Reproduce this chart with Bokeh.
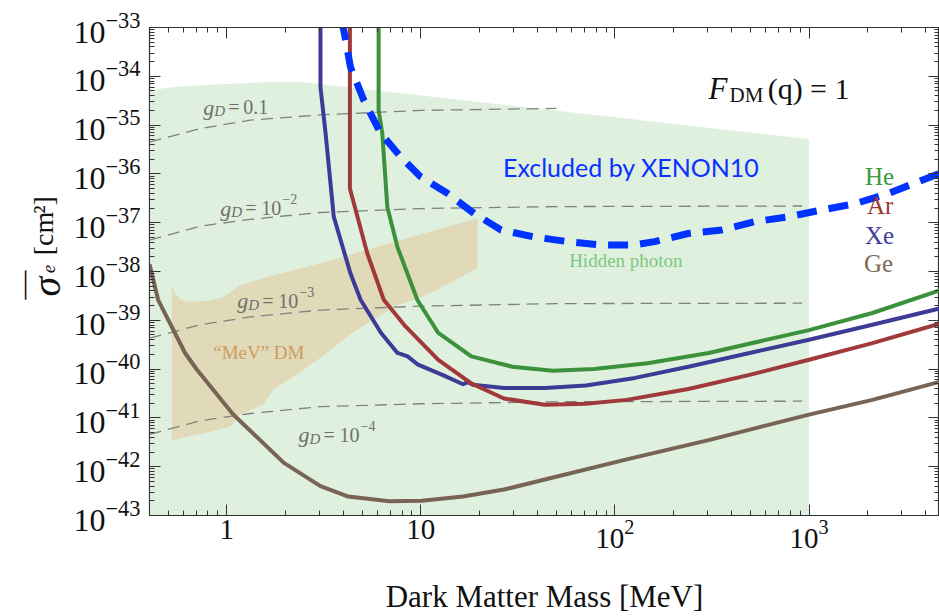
from math import pi
from bokeh.plotting import figure
from bokeh.layouts import row
from bokeh.models import LogAxis, FixedTicker, LogTickFormatter, Label, Range1d
from bokeh.embed import file_html
from bokeh.resources import INLINE

# ---------------- data: DM mass [MeV] vs cross section [cm^2] ----------------
he_mass = [6.06, 6.06, 6.33, 6.72, 7.57, 9.6, 12.3, 18.2, 29.6, 48, 78, 147, 304, 1000, 2120, 4790]
he_sigma = [1e-32, 2.0e-35, 6.8e-36, 2.1e-37, 3.2e-38, 2.6e-39, 5.5e-40, 1.82e-40, 1.12e-40,
            9.3e-41, 1.0e-40, 1.32e-40, 2.14e-40, 6.3e-40, 1.41e-39, 4.2e-39]

ar_mass = [4.31, 4.31, 5.30, 6.45, 8.36, 12.3, 18.2, 26.8, 43.5, 70.8, 115, 239, 494, 1000, 2120, 4790]
ar_sigma = [1e-32, 5.0e-37, 2.34e-38, 2.6e-39, 7.4e-40, 1.55e-40, 5.1e-41, 2.5e-41, 1.86e-41,
            1.95e-41, 2.34e-41, 3.9e-41, 7.6e-41, 1.55e-40, 3.4e-40, 8.7e-40]

xe_mass = [3.04, 3.04, 3.23, 3.56, 4.34, 4.90, 6.24, 7.58, 8.55, 9.68, 12.9, 16.5, 17.5, 18.5,
           26.8, 43.5, 70.8, 127, 239, 494, 1000, 2120, 4790]
xe_sigma = [1e-32, 6.0e-35, 6.8e-36, 1.32e-37, 9.1e-39, 2.6e-39, 5.5e-40, 2.14e-40, 1.82e-40,
            1.23e-40, 7.6e-41, 4.9e-41, 5.4e-41, 4.8e-41, 4.1e-41, 4.1e-41, 4.6e-41, 6.6e-41,
            1.12e-40, 2.14e-40, 4.0e-40, 8.1e-40, 1.78e-39]

ge_mass = [0.40, 0.443, 0.610, 0.701, 1.08, 1.97, 3.04, 4.23, 6.88, 10.1, 16.5, 26.8, 48, 115,
           304, 1000, 2120, 4790]
ge_sigma = [1.41e-38, 2.63e-39, 2.14e-40, 9.8e-41, 1.17e-41, 1.2e-42, 4.0e-43, 2.45e-43, 1.95e-43,
            2.0e-43, 2.45e-43, 3.4e-43, 6.0e-43, 1.41e-42, 3.5e-42, 1.17e-41, 2.34e-41, 5.6e-41]

xenon10_mass = [3.90, 4.01, 4.34, 5.09, 6.21, 7.87, 9.98, 13.7, 18.8, 25.9, 38.4, 57.1, 84.9, 126,
                160, 238, 354, 526, 783, 1164, 1729, 2570, 3820, 5000]
xenon10_sigma = [1.38e-33, 8.7e-34, 1.55e-34, 3.2e-35, 6.8e-36, 2.24e-36, 8.7e-37, 4.0e-37,
                 1.55e-37, 7.1e-38, 5.1e-38, 4.1e-38, 3.5e-38, 3.5e-38, 4.1e-38, 6.0e-38, 7.1e-38,
                 1.05e-37, 1.32e-37, 1.82e-37, 2.45e-37, 4.0e-37, 7.4e-37, 1.12e-36]

# hidden photon region (closed polygon)
hp_mass = [0.39, 0.575, 0.925, 1.68, 2.40, 1000, 1000, 0.39]
hp_sigma = [5.2e-35, 6.2e-35, 6.9e-35, 7.6e-35, 7.6e-35, 5.2e-36, 1e-44, 1e-44]

# "MeV" DM region (closed polygon)
mev_mass = [0.521, 0.545, 0.575, 0.633, 0.774, 0.948, 1.17, 1.68, 3.04, 7.87, 19.6, 19.6, 13.4,
            9.98, 7.58, 5.85, 4.44, 3.04, 2.36, 1.74, 1.54, 1.17, 1.04, 0.822, 0.521]
mev_sigma = [4.8e-39, 3.6e-39, 2.7e-39, 2.4e-39, 2.5e-39, 2.9e-39, 5.2e-39, 8.1e-39, 1.48e-38,
             4.4e-38, 1.23e-37, 1.17e-38, 5.2e-39, 2.9e-39, 2.04e-39, 1.12e-39, 5.5e-40, 1.7e-40,
             8.3e-41, 3.8e-41, 1.86e-41, 1.17e-41, 6.6e-42, 5.2e-42, 3.5e-42]

# constant-coupling contours
gd_mass = [0.4, 0.73, 1.32, 3.04, 10, 50, 920]
gd_01_sigma = [4.5e-36, 8.5e-36, 1.26e-35, 1.62e-35, 2.0e-35, 2.2e-35]
gd_1e2_sigma = [4.4e-38, 8.5e-38, 1.17e-37, 1.62e-37, 1.95e-37, 2.14e-37, 2.2e-37]
gd_1e3_sigma = [4.3e-40, 8.1e-40, 1.17e-39, 1.62e-39, 1.95e-39, 2.2e-39, 2.24e-39]
gd_1e4_sigma = [4.6e-42, 8.7e-42, 1.23e-41, 1.7e-41, 1.95e-41, 2.14e-41, 2.2e-41]

x_major = [1, 10, 100, 1000]
x_minor = [0.4, 0.5, 0.6, 0.7, 0.8, 0.9] + [m * 10.0 ** e for e in range(0, 4) for m in range(2, 10)]
y_major = [10.0 ** e for e in range(-43, -32)]
y_minor = [m * 10.0 ** e for e in range(-43, -33) for m in range(2, 10)]

SERIF = "Liberation Serif"
INK = "#111111"

# ---------------- y-axis title strip ----------------
TITLE_W = 68
side = figure(width=TITLE_W, height=616, x_range=Range1d(0, TITLE_W), y_range=Range1d(616, 0),
              output_backend="svg", toolbar_location=None,
              x_axis_location=None, y_axis_location=None,
              min_border_left=0, min_border_right=0, min_border_top=0, min_border_bottom=0)
side.outline_line_color = None
side.xgrid.grid_line_color = None
side.ygrid.grid_line_color = None


def side_lab(x, y, text, size, style="normal", align="center", baseline="alphabetic"):
    side.add_layout(Label(x=x, y=y, text=text, text_font=SERIF, text_font_size=f"{size}px",
                          text_font_style=style, text_color=INK, text_align=align,
                          text_baseline=baseline, angle=pi / 2))


# sigma-bar_e [cm^2], written bottom to top
side_lab(46, 327, "\u03c3", 40, "italic")
side_lab(22, 325, "\u2014", 29, baseline="middle")
side_lab(48, 305, "e", 19, "italic")
side_lab(43, 260, "[cm", 28)
side_lab(43, 224, "\u00b2]", 28)

# ---------------- main figure ----------------
X0, X1 = 0.4, 4700
p = figure(width=939 - TITLE_W, height=616, x_axis_type="log", y_axis_type="log",
           x_range=Range1d(X0, X1), y_range=Range1d(1e-43, 1e-33),
           output_backend="svg", toolbar_location=None,
           min_border_left=149 - TITLE_W, min_border_right=0, min_border_top=27,
           min_border_bottom=100)
p.background_fill_color = "white"
p.border_fill_color = "white"
p.outline_line_color = "#333333"
p.outline_line_width = 1.2
p.xgrid.grid_line_color = None
p.ygrid.grid_line_color = None

AX = "#333333"


def style_axis(ax, size, standoff):
    ax.major_tick_in = 11
    ax.major_tick_out = 0
    ax.minor_tick_in = 5
    ax.minor_tick_out = 0
    ax.axis_line_color = AX
    ax.major_tick_line_color = AX
    ax.minor_tick_line_color = AX
    ax.major_label_text_font = SERIF
    ax.major_label_text_font_size = size
    ax.major_label_text_color = INK
    ax.major_label_standoff = standoff


bx = p.below[0]
bx.ticker = FixedTicker(ticks=x_major, minor_ticks=x_minor)
bx.formatter = LogTickFormatter(min_exponent=2)
style_axis(bx, "29px", 4)
bx.axis_label = "Dark Matter Mass [MeV]"
bx.axis_label_text_font = SERIF
bx.axis_label_text_font_size = "31px"
bx.axis_label_text_font_style = "normal"
bx.axis_label_text_color = INK
bx.axis_label_standoff = 28

ly = p.left[0]
ly.ticker = FixedTicker(ticks=y_major, minor_ticks=y_minor)
ly.formatter = LogTickFormatter()
style_axis(ly, "32px", 9)

# mirrored tick marks on the top and right edges, without labels
top = LogAxis(ticker=FixedTicker(ticks=x_major, minor_ticks=x_minor))
style_axis(top, "1px", 0)
top.major_label_text_alpha = 0
p.add_layout(top, "above")
right = LogAxis(ticker=FixedTicker(ticks=y_major, minor_ticks=y_minor))
style_axis(right, "1px", 0)
right.major_label_text_alpha = 0
p.add_layout(right, "right")

# ---------------- regions ----------------
p.patch(hp_mass, hp_sigma, fill_color="#dff0df", line_color=None)
p.patch(mev_mass, mev_sigma, fill_color="#e0dab8", line_color=None)

for s in (gd_01_sigma, gd_1e2_sigma, gd_1e3_sigma, gd_1e4_sigma):
    p.line(gd_mass[:len(s)], s, line_color="#808080", line_width=1.3, line_dash="12 7")

# ---------------- limit curves ----------------
p.line(ge_mass, ge_sigma, line_color="#786455", line_width=4, line_join="round")
p.line(xe_mass, xe_sigma, line_color="#3c3c96", line_width=4, line_join="round")
p.line(ar_mass, ar_sigma, line_color="#a03a3a", line_width=4, line_join="round")
p.line(he_mass, he_sigma, line_color="#3c913c", line_width=4, line_join="round")
p.line(xenon10_mass, xenon10_sigma, line_color="#0033ff", line_width=7, line_dash="20 12")


# ---------------- in-plot text ----------------
def dx(cx):
    return 10 ** ((cx - 226.5) / 193.6)


def dy(cy):
    return 10 ** (-33 - (cy - 27) / 48.9)


def lab(cx, cy, text, size, color, style="normal", font=SERIF, align="left"):
    p.add_layout(Label(x=dx(cx), y=dy(cy), text=text, text_font=font,
                       text_font_size=f"{size}px", text_font_style=style,
                       text_color=color, text_align=align, text_baseline="alphabetic"))


GRAY = "#6f6f6f"


def gd_label(x0, base, exponent):
    lab(x0, base, "g", 22, GRAY, "italic")
    lab(x0 + 11, base + 4, "D", 15, GRAY, "italic")
    lab(x0 + 25, base, "=", 20, GRAY)
    if exponent is None:
        lab(x0 + 40, base, "0.1", 20, GRAY)
    else:
        lab(x0 + 41, base, "10", 20, GRAY)
        lab(x0 + 62, base - 9, exponent, 14, GRAY)


gd_label(203, 107, None)
gd_label(220, 208, "\u22122")
gd_label(237, 301, "\u22123")
gd_label(298, 435, "\u22124")

lab(213, 353, "\u201cMeV\u201d DM", 19, "#cf9a62")
lab(568, 260, "Hidden photon", 19, "#7cc87c")
lab(502, 167, "Excluded by XENON10", 25, "#0a32ff", font="Lato")

# F_DM(q) = 1
lab(707, 88, "F", 31, INK, "italic")
lab(728, 95, "DM", 21, INK)
lab(766, 88, "(q) = 1", 30, INK)

# target labels
lab(863, 176, "He", 25, "#3c9a3c")
lab(865, 205, "Ar", 25, "#9e3535")
lab(863, 235, "Xe", 25, "#40409a")
lab(862, 263, "Ge", 25, "#7a6a5a")

layout = row(side, p)
open("out.html", "w").write(file_html(layout, INLINE))
